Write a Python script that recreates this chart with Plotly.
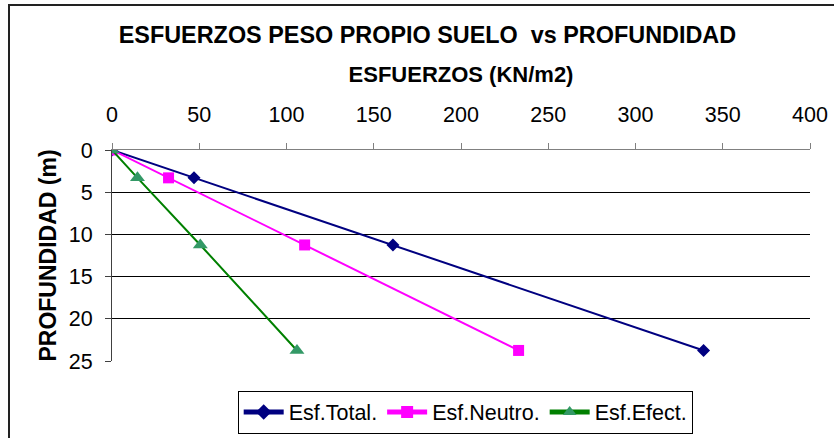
import plotly.graph_objects as go

# Depth of each point (m) and the stresses at that depth (kN/m2)
profundidad = [0, 3.3, 11.25, 23.75]
esf_total = [0, 47, 161, 339]
esf_neutro = [0, 32.4, 110.4, 233]
esf_efect = [0, 14.6, 50.6, 106]

x_ticks = [0, 50, 100, 150, 200, 250, 300, 350, 400]
y_ticks = [0, 5, 10, 15, 20, 25]
y_grid = [5, 10, 15, 20]

FONT = "Liberation Sans, Arial, sans-serif"

fig = go.Figure()

fig.add_trace(go.Scatter(
    x=esf_total, y=profundidad, name="Esf.Total.", mode="lines+markers",
    line=dict(color="#000080", width=2),
    marker=dict(symbol="diamond", size=10, color="#000080"),
))
fig.add_trace(go.Scatter(
    x=esf_neutro, y=profundidad, name="Esf.Neutro.", mode="lines+markers",
    line=dict(color="#FF00FF", width=2),
    marker=dict(symbol="square", size=11, color="#FF00FF"),
))
fig.add_trace(go.Scatter(
    x=esf_efect, y=profundidad, name="Esf.Efect.", mode="lines+markers",
    line=dict(color="#008000", width=2),
    marker=dict(symbol="triangle-up", size=13, color="#339966"),
))

# invisible trace carrying the horizontal gridlines on a twin axis
fig.add_trace(go.Scatter(x=[None], y=[None], yaxis="y2", showlegend=False, hoverinfo="skip"))

fig.update_layout(
    width=834, height=438,
    margin=dict(l=112, r=24, t=150, b=77, autoexpand=False),
    paper_bgcolor="white", plot_bgcolor="white",
    font=dict(family=FONT, color="black", size=21),
    title=dict(
        text="<b>ESFUERZOS PESO PROPIO SUELO  vs PROFUNDIDAD</b>",
        font=dict(size=23.4, family=FONT, color="black"),
        xref="container", yref="container",
        x=0.5125, xanchor="center", y=1 - 35 / 438, yanchor="middle",
    ),
    xaxis=dict(
        side="top", range=[0, 400], tickvals=x_ticks,
        ticks="outside", ticklen=6, tickcolor="#808080", tickwidth=1,
        showline=True, linecolor="#808080", linewidth=1,
        showgrid=False, zeroline=False, automargin=False,
        tickfont=dict(size=21.5, family=FONT),
        ticklabelstandoff=12,
        title=dict(text="<b>ESFUERZOS (KN/m2)</b>", font=dict(size=22, family=FONT), standoff=14),
    ),
    yaxis=dict(
        range=[25, 0], tickvals=y_ticks,
        ticks="outside", ticklen=6, tickcolor="#404040", tickwidth=1,
        showline=True, linecolor="#404040", linewidth=1,
        showgrid=False, zeroline=False, automargin=False,
        tickfont=dict(size=21.5, family=FONT),
        ticklabelstandoff=8,
        title=dict(text="<b>PROFUNDIDAD (m)</b>", font=dict(size=23, family=FONT), standoff=5),
    ),
    yaxis2=dict(
        overlaying="y", range=[25, 0], tickvals=y_grid,
        showgrid=True, gridcolor="black", gridwidth=1, automargin=False,
        showticklabels=False, ticks="", showline=False, zeroline=False,
    ),
    legend=dict(
        orientation="h", xref="paper", yref="paper",
        x=0.506, xanchor="center", y=-0.14, yanchor="top",
        bordercolor="black", borderwidth=1, bgcolor="white",
        font=dict(size=21.5, family=FONT), itemwidth=40,
        tracegroupgap=0, itemsizing="constant",
    ),
    showlegend=True,
    shapes=[dict(
        type="rect", xref="paper", yref="paper",
        x0=(9 - 112) / 698, x1=(850 - 112) / 698,
        y0=(361 - 460) / 211, y1=(361 - 5) / 211,
        line=dict(color="#222222", width=2), fillcolor="rgba(0,0,0,0)",
        layer="below",
    )],
)

fig.write_html("out.html")
